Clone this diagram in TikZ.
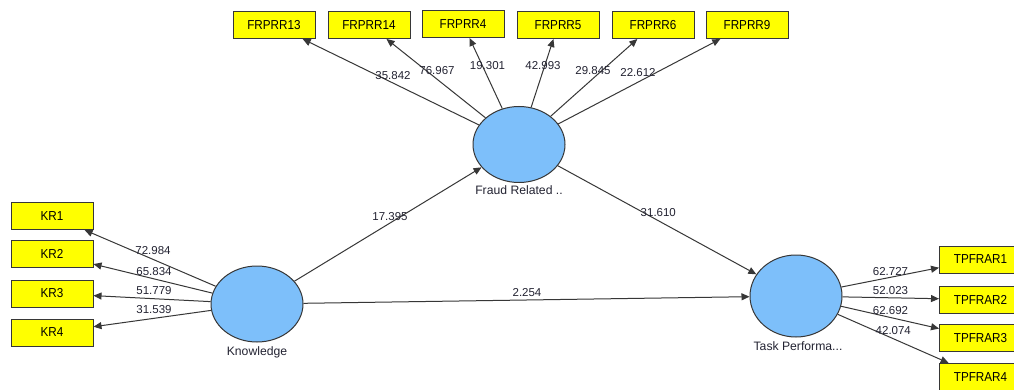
\documentclass[tikz,border=0pt]{standalone}
\usepackage{fontspec}
\setmainfont{Liberation Sans}
\newfontfamily\boxfont[FakeStretch=0.9]{Liberation Sans}
\usetikzlibrary{shapes.geometric,arrows.meta}
\definecolor{boxyellow}{RGB}{255,255,0}
\definecolor{latblue}{RGB}{125,191,250}
\definecolor{edgegray}{RGB}{55,55,55}
\definecolor{numcol}{RGB}{35,35,50}
\begin{document}
\begin{tikzpicture}[x=1pt,y=-1pt,
 ind/.style={draw=edgegray, line width=1pt, fill=boxyellow, minimum width=82pt, minimum height=27pt, inner sep=0pt, font=\boxfont\fontsize{13}{13}\selectfont},
 lat/.style={ellipse, draw=edgegray, line width=1pt, fill=latblue, minimum width=92pt, minimum height=76pt, inner sep=0pt},
 latlab/.style={font=\fontsize{12.2}{12.2}\selectfont, text=numcol, inner sep=0pt},
 num/.style={font=\fontsize{11.5}{11.5}\selectfont, text=numcol, inner sep=0pt},
 arr/.style={draw=edgegray, line width=1pt, -{Triangle[length=8pt,width=7pt]}}
]
\useasboundingbox[fill=white] (0,0) rectangle (1014,390);

% latent variables
\node[lat] (F) at (519,144.5) {};
\node[lat] (K) at (257,304) {};
\node[lat, minimum height=82pt] (T) at (796,296) {};
\node[latlab] (Flab) at (519,190.5) {Fraud Related ..};
\node[latlab] (Klab) at (257,352) {Knowledge};
\node[latlab] (Tlab) at (798,346) {Task Performa...};

% indicators
\node[ind] (FR13) at (274,25) {FRPRR13};
\node[ind] (FR14) at (369,25) {FRPRR14};
\node[ind] (FR4) at (463,24) {FRPRR4};
\node[ind] (FR5) at (558,25) {FRPRR5};
\node[ind] (FR6) at (653,25) {FRPRR6};
\node[ind] (FR9) at (747,25) {FRPRR9};

\node[ind] (KR1) at (52,216) {KR1};
\node[ind] (KR2) at (52,254) {KR2};
\node[ind] (KR3) at (52,293.5) {KR3};
\node[ind] (KR4) at (52,332.5) {KR4};

\node[ind] (TP1) at (980.5,259.5) {TPFRAR1};
\node[ind] (TP2) at (980.5,299.5) {TPFRAR2};
\node[ind] (TP3) at (980.5,338) {TPFRAR3};
\node[ind] (TP4) at (980.5,377) {TPFRAR4};

% connectors
\foreach \b in {FR13,FR14,FR4,FR5,FR6,FR9} \draw[arr] (F) -- (\b);
\foreach \b in {KR1,KR2,KR3,KR4} \draw[arr] (K) -- (\b);
\foreach \b in {TP1,TP2,TP3,TP4} \draw[arr] (T) -- (\b);
\draw[arr] (K) -- (F);
\draw[arr] (F) -- (T);
\draw[arr] (K) -- (T);

% numbers
\node[num] (n1) at (393,75.5) {35.842};
\node[num] (n2) at (437,70.5) {76.967};
\node[num] (n3) at (487.5,66) {19.301};
\node[num] (n4) at (543,66) {42.993};
\node[num] (n5) at (593,70.5) {29.845};
\node[num] (n6) at (638,72.5) {22.612};

\node[num] (m1) at (153,251) {72.984};
\node[num] (m2) at (154,271.5) {65.834};
\node[num] (m3) at (154,291) {51.779};
\node[num] (m4) at (154,310) {31.539};

\node[num] (t1) at (890.5,271.3) {62.727};
\node[num] (t2) at (890.5,290.5) {52.023};
\node[num] (t3) at (890.5,310.5) {62.692};
\node[num] (t4) at (893.3,330.5) {42.074};

\node[num] (p1) at (390,217) {17.395};
\node[num] (p2) at (658.3,213) {31.610};
\node[num] (p3) at (527,293) {2.254};
\end{tikzpicture}
\end{document}
